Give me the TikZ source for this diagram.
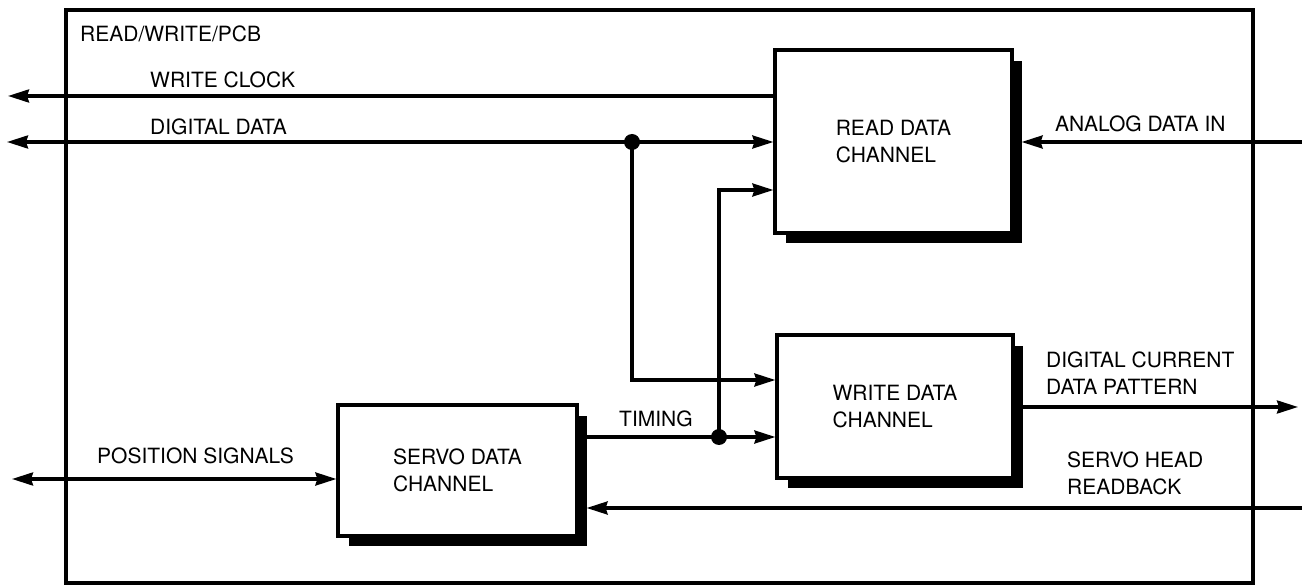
\documentclass[tikz,border=0pt]{standalone}
\usepackage{fontspec}
\setmainfont{TeX Gyre Heros}
\usetikzlibrary{arrows.meta,calc}
\begin{document}
\begin{tikzpicture}[x=1pt,y=1pt,
  wire/.style={line width=3.2pt},
  arr/.style={-{Stealth[length=21pt,width=13pt,inset=2pt]}},
  arrboth/.style={{Stealth[length=21pt,width=13pt,inset=2pt]}-{Stealth[length=21pt,width=13pt,inset=2pt]}},
  blk/.style={draw, line width=3.2pt, fill=white, inner sep=0pt, align=left, font=\fontsize{21}{27}\selectfont},
  lbl/.style={inner sep=0pt, align=left, font=\fontsize{21}{27}\selectfont},
  dot/.style={circle, fill, inner sep=0pt, minimum size=16pt}]
\fill[white] (0,0) rectangle (1302,-585);
\useasboundingbox (0,0) rectangle (1302,-585);
% board frame
\node[draw, line width=3.2pt, minimum width=1187, minimum height=573, inner sep=0pt] (pcb) at (659.5,-296.5) {};
% blocks
\node[blk, minimum width=237, minimum height=183] (rd) at (893.5,-141.5) {READ DATA\\CHANNEL};
\node[blk, minimum width=236, minimum height=143] (wr) at (895,-406.5) {WRITE DATA\\CHANNEL};
\node[blk, minimum width=239, minimum height=131] (sv) at (457.5,-470.5) {SERVO DATA\\CHANNEL};
\foreach \b in {rd,wr,sv} {
  \fill ($(\b.south west)+(13,0)$) rectangle ($(\b.south east)+(8,-8)$);
  \fill ($(\b.north east)+(0,-13)$) rectangle ($(\b.south east)+(8,-8)$);
}
% coordinates
\coordinate (wcL) at (8,-96);
\coordinate (ddL) at (7,-142);
\coordinate (k1) at (632,-380);
\coordinate (rdin) at (719,-190);
\coordinate (adR) at (1302,-142);
\coordinate (dcR) at (1298,-407);
\coordinate (shR) at (1302,-508);
\coordinate (psL) at (12,-479);
\node[dot] (j1) at (632,-142) {};
\node[dot] (j2) at (719,-437) {};
% connectors
\draw[wire, arr] (rd.west |- wcL) -- (wcL);
\draw[wire, arrboth] (ddL) -- (rd.west |- ddL);
\draw[wire, arr] (j1.center) -- (k1) -- (wr.west |- k1);
\draw[wire, arr] (sv.east |- j2) -- (wr.west |- j2);
\draw[wire, arr] (j2.center) -- (rdin) -- (rd.west |- rdin);
\draw[wire, arr] (adR) -- ($(rd.east |- adR)+(8,0)$);
\draw[wire, arr] ($(wr.east |- dcR)+(8,0)$) -- (dcR);
\draw[wire, arr] (shR) -- ($(sv.east |- shR)+(8,0)$);
\draw[wire, arrboth] (psL) -- (sv.west |- psL);
% labels
\node[lbl, anchor=base west] (tpcb) at (80,-42) {READ/WRITE/PCB};
\node[lbl, anchor=base west] (twc) at (150,-88) {WRITE CLOCK};
\node[lbl, anchor=base west] (tdd) at (150,-135) {DIGITAL DATA};
\node[lbl, anchor=base west] (tad) at (1055,-132) {ANALOG DATA IN};
\node[lbl, anchor=base west] (ttm) at (619,-427) {TIMING};
\node[lbl, anchor=base west] (tps) at (97,-463) {POSITION SIGNALS};
\node[lbl, anchor=north west] (tdc) at (1046,-352) {DIGITAL CURRENT\\DATA PATTERN};
\node[lbl, anchor=north west] (tsh) at (1067,-452) {SERVO HEAD\\READBACK};
\end{tikzpicture}
\end{document}
